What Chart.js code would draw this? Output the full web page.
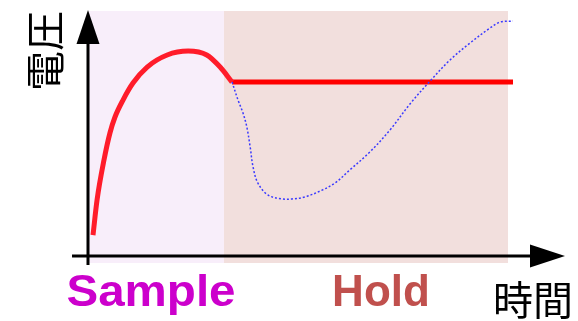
<!DOCTYPE html>
<html>
<head>
<meta charset="utf-8">
<script src="https://cdn.jsdelivr.net/npm/chart.js@4.4.1/dist/chart.umd.min.js"></script>
<style>
  body { margin: 0; background: #fff; }
</style>
</head>
<body>
<canvas id="chart" width="578" height="321"></canvas>
<script>
// time (0-100) and voltage (0-100)
const sampleT = [1.05, 1.9, 3.35, 4.6, 5.66, 7.34, 9.43, 12.4, 16.6, 21.0, 24.9, 27.7, 30.2];
const sampleV = [8.5, 22.8, 39.0, 50, 56.5, 63.4, 70.3, 76.8, 81.7, 83.3, 81.7, 76.8, 70.7];
const holdT = [30.2, 89.1];
const holdV = [70.7, 70.7];
const inputT = [30.2, 31.45, 32.5, 33.3, 34.0, 34.6, 35.6, 37.7, 40.7, 42.8, 45.5, 49.1, 51.8, 54.9, 59.1, 63.3, 67.5, 71.7, 75.9, 80.1, 84.3, 86.4, 89.1];
const inputV = [70.7, 63.4, 58.1, 52.4, 44.3, 36.2, 29.7, 24.8, 23.2, 23.2, 24.0, 26.8, 29.7, 35.0, 42.3, 51.2, 61.8, 71.1, 79.7, 86.6, 92.7, 95.1, 95.5];

// phases: [start, end]
const samplePhase = [0.2, 28.5];
const holdPhase = [28.5, 88.05];
const phaseV = [-2.85, 99.6];
const phaseLabels = ['Sample', 'Hold'];

const toPts = (ts, vs) => ts.map((t, i) => ({ x: t, y: vs[i] }));

const decor = {
  id: 'decor',
  beforeDatasetsDraw(chart) {
    const { ctx, scales: { x, y } } = chart;
    ctx.save();
    ctx.fillStyle = '#f8eefa';
    ctx.fillRect(x.getPixelForValue(samplePhase[0]), y.getPixelForValue(phaseV[1]),
      x.getPixelForValue(samplePhase[1]) - x.getPixelForValue(samplePhase[0]),
      y.getPixelForValue(phaseV[0]) - y.getPixelForValue(phaseV[1]));
    ctx.fillStyle = '#f2dfdd';
    ctx.fillRect(x.getPixelForValue(holdPhase[0]), y.getPixelForValue(phaseV[1]),
      x.getPixelForValue(holdPhase[1]) - x.getPixelForValue(holdPhase[0]),
      y.getPixelForValue(phaseV[0]) - y.getPixelForValue(phaseV[1]));

    // axes with arrows
    const x0 = x.getPixelForValue(0), y0 = y.getPixelForValue(0);
    const xEnd = x.getPixelForValue(100), yEnd = y.getPixelForValue(100);
    ctx.strokeStyle = '#000';
    ctx.lineWidth = 3;
    ctx.beginPath();
    ctx.moveTo(x.getPixelForValue(-3.35), y0);
    ctx.lineTo(xEnd - 30, y0);
    ctx.moveTo(x0, y.getPixelForValue(-3.66));
    ctx.lineTo(x0, yEnd + 30);
    ctx.stroke();
    ctx.fillStyle = '#000';
    ctx.beginPath();
    ctx.moveTo(xEnd, y0);
    ctx.lineTo(xEnd - 35, y0 - 11.5);
    ctx.lineTo(xEnd - 35, y0 + 11.5);
    ctx.closePath();
    ctx.fill();
    ctx.beginPath();
    ctx.moveTo(x0, yEnd);
    ctx.lineTo(x0 - 11.5, yEnd + 34);
    ctx.lineTo(x0 + 11.5, yEnd + 34);
    ctx.closePath();
    ctx.fill();
    ctx.restore();
  },
  afterDraw(chart) {
    const { ctx } = chart;
    ctx.save();
    ctx.textAlign = 'center';
    ctx.textBaseline = 'alphabetic';
    ctx.font = 'bold 44px "Liberation Sans", Arial, sans-serif';

    ctx.save();
    ctx.translate(151, 306);
    ctx.scale(1.08, 1);
    ctx.fillStyle = '#cc00cc';
    ctx.fillText(phaseLabels[0], 0, 0);
    ctx.restore();

    ctx.fillStyle = '#c0504d';
    ctx.fillText(phaseLabels[1], 381, 306);

    ctx.fillStyle = '#000';
    ctx.font = '40px "Noto Sans CJK JP", sans-serif';
    ctx.textBaseline = 'middle';
    ctx.fillText('時間', 533, 300);

    ctx.translate(45, 51);
    ctx.rotate(-Math.PI / 2);
    ctx.fillText('電圧', 0, 0);
    ctx.restore();
  }
};

new Chart(document.getElementById('chart'), {
  type: 'line',
  data: {
    datasets: [
      {
        label: 'input',
        data: toPts(inputT, inputV),
        borderColor: '#3a3aff',
        borderWidth: 1.5,
        borderDash: [2, 2],
        pointRadius: 0,
        tension: 0.35
      },
      {
        label: 'sample',
        data: toPts(sampleT, sampleV),
        borderColor: 'rgb(255, 28, 42)',
        borderWidth: 5,
        pointRadius: 0,
        cubicInterpolationMode: 'monotone'
      },
      {
        label: 'hold',
        data: toPts(holdT, holdV),
        borderColor: '#ff0000',
        borderWidth: 5,
        pointRadius: 0
      }
    ]
  },
  options: {
    responsive: false,
    animation: false,
    layout: { padding: { left: 88, right: 13, top: 10, bottom: 65 } },
    plugins: { legend: { display: false }, tooltip: { enabled: false } },
    scales: {
      x: { type: 'linear', min: 0, max: 100, display: false },
      y: { min: 0, max: 100, display: false }
    }
  },
  plugins: [decor]
});
</script>
</body>
</html>
